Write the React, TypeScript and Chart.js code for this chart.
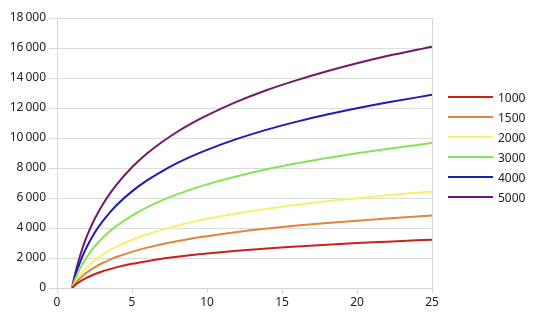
import React, { useEffect, useRef } from "react";
import { Chart, registerables } from "chart.js";

Chart.register(...registerables);

const xValues = [1, 1.2, 1.4, 1.6, 1.8, 2, 2.5, 3, 3.5, 4, 5, 6, 7, 8, 9, 10, 12, 14, 16, 18, 20, 22, 25];

const s1000 = [0, 180, 340, 470, 590, 690, 920, 1100, 1250, 1390, 1610, 1790, 1950, 2080, 2200, 2300, 2480, 2640, 2770, 2890, 3000, 3090, 3220];
const s1500 = [0, 270, 500, 710, 880, 1040, 1370, 1650, 1880, 2080, 2410, 2690, 2920, 3120, 3300, 3450, 3730, 3960, 4160, 4340, 4490, 4640, 4830];
const s2000 = [0, 360, 670, 940, 1180, 1390, 1830, 2200, 2510, 2770, 3220, 3580, 3890, 4160, 4390, 4610, 4970, 5280, 5550, 5780, 5990, 6180, 6440];
const s3000 = [0, 550, 1010, 1410, 1760, 2080, 2750, 3300, 3760, 4160, 4830, 5380, 5840, 6240, 6590, 6910, 7450, 7920, 8320, 8670, 8990, 9270, 9660];
const s4000 = [0, 730, 1350, 1880, 2350, 2770, 3670, 4390, 5010, 5550, 6440, 7170, 7780, 8320, 8790, 9210, 9940, 10560, 11090, 11560, 11980, 12360, 12880];
const s5000 = [0, 910, 1680, 2350, 2940, 3470, 4580, 5490, 6260, 6930, 8050, 8960, 9730, 10400, 10990, 11510, 12420, 13200, 13860, 14450, 14980, 15460, 16090];

const seriesNames = ["1000", "1500", "2000", "3000", "4000", "5000"];
const seriesValues = [s1000, s1500, s2000, s3000, s4000, s5000];
const seriesColors = ["#c9211e", "#e0853a", "#f7f06e", "#86e35a", "#1c1cb8", "#6e1a6e"];

const FONT = "'Noto Sans', 'DejaVu Sans', sans-serif";

function fmt(v: number): string {
  return String(v).replace(/\B(?=(\d{3})+(?!\d))/g, "\u202f");
}

export default function App() {
  const ref = useRef<HTMLCanvasElement | null>(null);

  useEffect(() => {
    if (!ref.current) return;
    const datasets = seriesNames.map((name, i) => ({
      label: name,
      data: xValues.map((x, j) => ({ x, y: seriesValues[i][j] })),
      borderColor: seriesColors[i],
      backgroundColor: seriesColors[i],
      borderWidth: 2,
      pointRadius: 0,
      cubicInterpolationMode: "monotone" as const,
      fill: false,
    }));
    const chart = new Chart(ref.current, {
      type: "line",
      data: { datasets },
      options: {
        animation: false,
        responsive: false,
        layout: { padding: { left: 0, right: 108, top: 18, bottom: 0 } },
        plugins: { legend: { display: false }, tooltip: { enabled: false } },
        scales: {
          x: {
            type: "linear",
            min: 0,
            max: 25,
            ticks: { stepSize: 5, color: "#222", font: { family: FONT, size: 12 }, padding: 2, maxRotation: 0 },
            grid: {
              color: (c: any) => (c.tick && (c.tick.value === 0 || c.tick.value === 25) ? "#d6d6d6" : "rgba(0,0,0,0)"),
              tickColor: "#d6d6d6",
              tickLength: 5,
            },
            border: { display: true, color: "#d6d6d6" },
            afterFit: (s: any) => { s.height = 39; },
          },
          y: {
            min: 0,
            max: 18000,
            ticks: { stepSize: 2000, color: "#222", font: { family: FONT, size: 12 }, padding: 3, callback: (v: any) => fmt(Number(v)) },
            grid: { color: "#dcdcdc", tickColor: "#dcdcdc", tickLength: 8 },
            border: { display: true, color: "#d6d6d6" },
            afterFit: (s: any) => { s.width = 57; },
          },
        },
      },
    });
    return () => chart.destroy();
  }, []);

  return (
    <div style={{ position: "fixed", left: 0, top: 0, width: 540, height: 327, background: "#fff" }}>
      <canvas ref={ref} width={540} height={327} style={{ display: "block" }} />
      <div style={{ position: "absolute", left: 448, top: 87, fontFamily: FONT, fontSize: 12, color: "#222" }}>
        {seriesNames.map((name, i) => (
          <div key={name} style={{ display: "flex", alignItems: "center", height: 20 }}>
            <div style={{ width: 45, height: 2, background: seriesColors[i], marginRight: 5 }} />
            <span>{name}</span>
          </div>
        ))}
      </div>
    </div>
  );
}
